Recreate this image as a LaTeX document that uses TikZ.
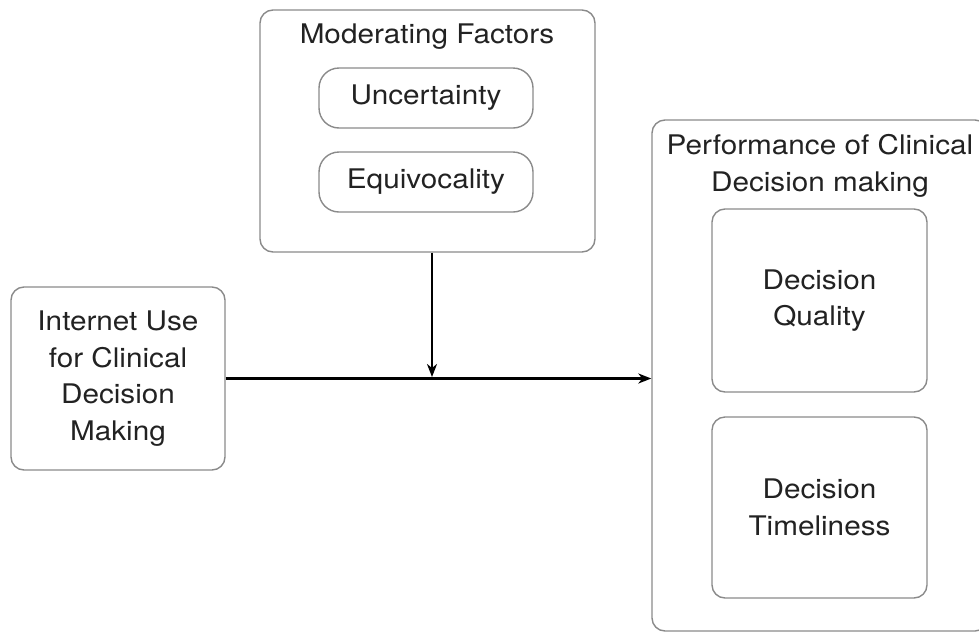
\documentclass[tikz,border=0pt]{standalone}
\usepackage{fontspec}
\setmainfont{TeX Gyre Heros}[FakeStretch=1.1]
\usetikzlibrary{arrows.meta,calc}
\definecolor{boxgray}{HTML}{8A8A8A}
\definecolor{txt}{HTML}{222222}
\begin{document}
\begin{tikzpicture}[x=1pt,y=-1pt,
  box/.style={draw=boxgray, line width=1.4pt, rounded corners=13pt, inner sep=0pt},
  lbl/.style={font=\fontsize{27}{36.5}\selectfont, text=txt, align=center},
  arr/.style={line width=2.2pt, -{Stealth[length=13pt,width=10pt,inset=4pt]}}]
\useasboundingbox (0,0) rectangle (979,635);
\clip (0,0) rectangle (979,635);
% moderating factors
\node[box, minimum width=335pt, minimum height=242pt] (mod) at (427.5,131) {};
\node[lbl, anchor=base] (modt) at (427,43) {Moderating Factors};
\node[box, lbl, rounded corners=20pt, minimum width=214pt, minimum height=60pt] (unc) at (426,98) {Uncertainty};
\node[box, lbl, rounded corners=20pt, minimum width=214pt, minimum height=60pt] (equ) at (426,182) {Equivocality};
% independent variable
\node[box, lbl, minimum width=214pt, minimum height=183pt] (inet) at (118,378.5) {Internet Use\\for Clinical\\Decision\\Making};
% performance
\node[box, minimum width=336pt, minimum height=511pt] (perf) at (820,375.5) {};
\node[lbl] (perft) at (820,166) {Performance of Clinical\\Decision making};
\node[box, lbl, minimum width=215pt, minimum height=183pt] (dq) at (819.5,300.5) {Decision\\Quality};
\node[box, lbl, minimum width=215pt, minimum height=181pt] (dt) at (819.5,507.5) {Decision\\Timeliness};
% arrows
\coordinate (mid) at (432,377);
\draw[arr] (inet.east) -- (inet.east -| perf.west);
\draw[arr] (mod.south -| mid) -- (mid);
\end{tikzpicture}
\end{document}
